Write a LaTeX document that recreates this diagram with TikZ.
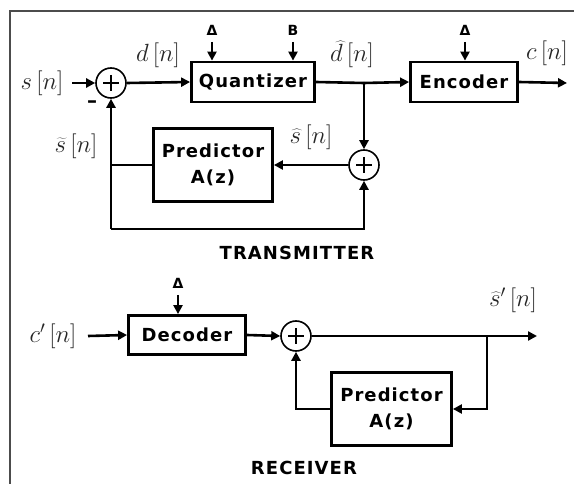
\documentclass[tikz,border=0pt]{standalone}
\usepackage{fontspec}
\newfontfamily\blockfont[LetterSpace=6]{DejaVu Sans Bold}
\usetikzlibrary{arrows.meta}
\begin{document}
\begin{tikzpicture}[x=1pt,y=-1pt,
  conn/.style={line width=2.6pt,-{Triangle[length=9pt,width=9pt]}},
  wire/.style={line width=2.6pt},
  block/.style={draw,line width=2.8pt,inner sep=0pt,align=center,
    font=\blockfont\fontsize{18}{26}\selectfont},
  sumnode/.style={circle,draw,line width=1.6pt,minimum size=30pt,inner sep=0pt,
    path picture={\draw[line width=2.6pt]
      ([yshift=-7pt]path picture bounding box.north) -- ([yshift=7pt]path picture bounding box.south)
      ([xshift=7pt]path picture bounding box.west) -- ([xshift=-7pt]path picture bounding box.east);}},
  sig/.style={inner sep=0pt,text=black!85,font=\fontsize{23}{27}\selectfont},
  title/.style={inner sep=0pt,font=\blockfont\fontsize{18}{22}\selectfont},
  param/.style={inner sep=0pt,font=\blockfont\fontsize{14}{16}\selectfont}]
\useasboundingbox (0,0) rectangle (574,484);
\draw[line width=1.5pt,black!70] (10,484) -- (10,11) -- (574,11);

% ---------------- Transmitter ----------------
\node[sumnode] (s1) at (111,83) {};
\node[block,minimum width=123pt,minimum height=40pt] (q) at (253,82) {Quantizer};
\node[block,minimum width=107pt,minimum height=40pt] (enc) at (464,82) {Encoder};
\node[sumnode] (s2) at (364,165) {};
\node[block,minimum width=119pt,minimum height=73pt] (p1) at (213,165) {Predictor\\A(z)};

\coordinate (sin) at (72,83);
\coordinate (j1) at (364,83);
\coordinate (cout) at (567,83);
\coordinate (fb) at (111,165);
\coordinate (lb1) at (111,229);
\coordinate (lb2) at (364,229);
\coordinate (qd) at (212,42);
\coordinate (qb) at (293,42);
\coordinate (ed) at (465,42);

\node[sig] (ls) at (42,83) {$s\,[n]$};
\node[sig] (ld) at (158,55) {$d\,[n]$};
\node[sig] (ldh) at (352,54) {$\widehat{d}\,[n]$};
\node[sig] (lc) at (547,53) {$c\,[n]$};
\node[sig] (lsh) at (311,137) {$\widehat{s}\,[n]$};
\node[sig] (lst) at (76,146) {$\widetilde{s}\,[n]$};
\node[title,font=\blockfont\fontsize{20}{22}\selectfont] (minus) at (92,104) {–};
\node[param] (tq1) at (212,30) {Δ};
\node[param] (tq2) at (293,30) {B};
\node[param] (te) at (465,30) {Δ};
\node[title] (tx) at (297,253) {TRANSMITTER};

\draw[conn] (sin) -- (s1.west);
\draw[conn] (s1.east) -- (q.west);
\draw[wire] (q.east) -- (j1);
\draw[conn] (j1) -- (enc.west);
\draw[conn] (enc.east) -- (cout);
\draw[conn] (j1) -- (s2.north);
\draw[conn] (s2.west) -- (p1.east);
\draw[wire] (p1.west) -- (fb);
\draw[conn] (lb1) -- (s1.south);
\draw[conn] (lb1) -- (lb2) -- (s2.south);
\draw[conn] (qd) -- (qd |- q.north);
\draw[conn] (qb) -- (qb |- q.north);
\draw[conn] (ed) -- (ed |- enc.north);

% ---------------- Receiver ----------------
\node[block,minimum width=117pt,minimum height=39pt] (dec) at (187,335) {Decoder};
\node[sumnode] (s3) at (296,336) {};
\node[block,minimum width=120pt,minimum height=73pt] (p2) at (391.5,409) {Predictor\\A(z)};

\coordinate (cin) at (88,336);
\coordinate (j2) at (487,336);
\coordinate (sout) at (537,336);
\coordinate (j3) at (487,409);
\coordinate (j4) at (296,409);
\coordinate (dd) at (178,295);

\node[sig] (lcp) at (53,336) {$c'\,[n]$};
\node[sig] (lsp) at (513,300) {$\widehat{s}'\,[n]$};
\node[param] (td) at (178,283) {Δ};
\node[title] (rx) at (304,468) {RECEIVER};

\draw[conn] (cin) -- (dec.west);
\draw[conn] (dec.east) -- (s3.west);
\draw[conn] (s3.east) -- (sout);
\draw[conn] (j2) -- (j3) -- (p2.east);
\draw[conn] (p2.west) -- (j4) -- (s3.south);
\draw[conn] (dd) -- (dd |- dec.north);
\end{tikzpicture}
\end{document}
